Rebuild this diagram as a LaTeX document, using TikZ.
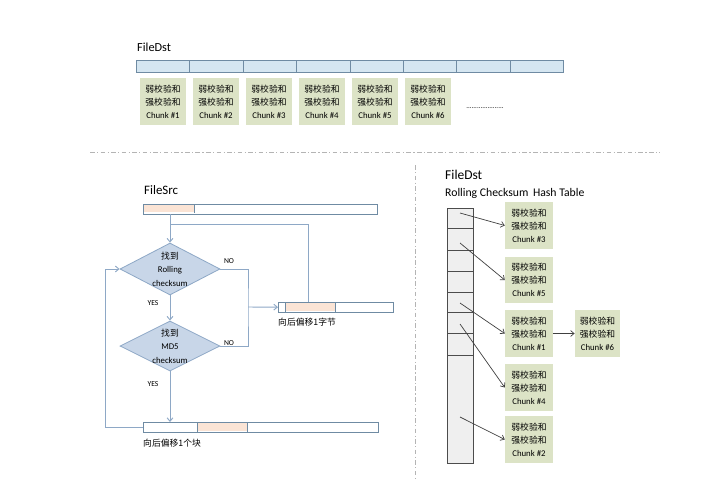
\documentclass[tikz,border=0pt]{standalone}
\usepackage{fontspec}
\setmainfont{Carlito}
\newfontfamily\cjk{Noto Sans CJK SC}
\usetikzlibrary{arrows.meta,shapes.geometric,positioning,calc}

\definecolor{barfill}{HTML}{D5E6F1}
\definecolor{barline}{HTML}{6F8BA3}
\definecolor{chunkfill}{HTML}{DCE3C6}
\definecolor{orangefill}{HTML}{FBE4D5}
\definecolor{flowline}{HTML}{8EA8C6}
\definecolor{diafill}{HTML}{C8D6E8}
\definecolor{tablefill}{HTML}{EFEFEF}
\definecolor{sepline}{HTML}{B4B4B4}

\newcommand{\chunktext}[1]{{\cjk 弱校验和}\\{\cjk 强校验和}\\Chunk \##1}

\tikzset{
  dstcell/.style={draw=barline,fill=barfill,line width=0.6pt,inner sep=0,
    anchor=north west,minimum width=1.602cm,minimum height=0.36cm},
  filebar/.style={draw=barline,fill=white,line width=0.6pt,inner sep=0,
    anchor=north west,minimum height=0.29cm},
  chunk/.style={fill=chunkfill,inner sep=0,align=center,minimum width=1.4cm,
    minimum height=1.4cm,font=\fontsize{7.5}{11}\selectfont},
  decision/.style={diamond,draw=flowline,fill=diafill,line width=0.7pt,
    inner sep=0,minimum width=3cm,minimum height=1.56cm},
  dtext/.style={align=center,inner sep=0,font=\fontsize{7.5}{11.5}\selectfont},
  flow/.style={draw=flowline,line width=0.8pt},
  ptr/.style={draw=black!75,line width=0.6pt,-{Straight Barb[length=3pt,width=5pt]}},
  lbl/.style={inner sep=0,font=\fontsize{6.5}{8}\selectfont},
  title/.style={anchor=west,inner sep=0},
  sep/.style={draw=sepline,line width=0.8pt,dash pattern=on 4pt off 2pt on 1pt off 2pt}
}

\begin{document}
\begin{tikzpicture}[x=0.03cm,y=-0.03cm,>={Straight Barb[length=3pt,width=5pt]}]
\useasboundingbox (0,0) rectangle (728,479);

% top: FileDst chunks
\node[title,font=\fontsize{10.5}{12}\selectfont] (dsttitle) at (137,47) {FileDst};
\foreach \i in {1,...,8}
  \node[dstcell] (cell\i) at ({136+(\i-1)*53.4},60) {};
\foreach \i in {1,...,6}
  \node[chunk] (top\i) at ({163+(\i-1)*53},101.5) {\chunktext{\i}};
\node[inner sep=0,font=\fontsize{6}{7}\selectfont] (more) at (485,108) {.....................};

% separators
\draw[sep] (90,152) -- (660,152);
\draw[sep] (415,165) -- (415,479);

% left: FileSrc flow
\node[title,font=\fontsize{11}{13}\selectfont] (srctitle) at (144,190) {FileSrc};
\node[filebar,minimum width=7.02cm] (src) at (143,204) {};
\fill[orangefill] (143.6,204.6) rectangle (194,212.4);
\draw[barline,line width=0.6pt] (194,204) -- (194,213);

\node[decision] (rolling) at (170,269) {};
\node[dtext] (rollingtext) at (rolling) {{\cjk 找到}\\Rolling\\checksum};
\node[decision,minimum height=1.5cm] (md5) at (170,346) {};
\node[dtext] (md5text) at (md5) {{\cjk 找到}\\MD5\\checksum};

\node[filebar,minimum width=3.45cm] (shiftbyte) at (278,302) {};
\fill[orangefill] (285,302.6) rectangle (335,311.4);
\draw[barline,line width=0.6pt] (285,302) -- (285,312) (335,302) -- (335,312);
\node[title,font=\fontsize{7.5}{9}\selectfont\cjk] (bytelbl) at (278,322) {向后偏移1字节};

\node[filebar,minimum width=7.05cm] (block) at (143,422) {};
\fill[orangefill] (197,422.6) rectangle (247,431.4);
\draw[barline,line width=0.6pt] (197,422) -- (197,432) (247,422) -- (247,432);
\node[title,font=\fontsize{7.5}{9}\selectfont\cjk] (blocklbl) at (143,443) {向后偏移1个块};

\coordinate (loopin) at (170,224);
\coordinate (back) at (308,302);
\coordinate (nojoin) at (248,307);

\draw[flow,->] (rolling |- src.south) -- (rolling.north);
\draw[flow] (back) |- (loopin);
\draw[flow,->] (rolling.south) -- (md5.north);
\draw[flow] (rolling.east) -| (nojoin) |- (md5.east);
\draw[flow,->] (nojoin) -- (shiftbyte.west);
\draw[flow,->] (md5.south) -- (md5.south |- block.north);
\draw[flow,->] (block.west) -- ++(-38,0) |- (rolling.west);

\node[lbl] (no1) at (229,261) {NO};
\node[lbl] (yes1) at (153,303) {YES};
\node[lbl] (no2) at (229,343) {NO};
\node[lbl] (yes2) at (153,384) {YES};

% right: hash table
\node[title,font=\fontsize{11.5}{13}\selectfont] (tabtitle) at (445,175) {FileDst};
\node[title,font=\fontsize{10}{12}\selectfont] (tabsub) at (445,193) {Rolling Checksum\, Hash Table};
\node[draw=black!70,fill=tablefill,line width=0.6pt,inner sep=0,anchor=north west,
  minimum width=0.78cm,minimum height=7.65cm] (table) at (447,208) {};
\foreach \y in {228,250,271,292,312,333,355}
  \draw[black!70,line width=0.6pt] (447,\y) -- (473,\y);

\node[chunk,minimum width=1.44cm] (hc3) at (529,225.5) {\chunktext{3}};
\node[chunk,minimum width=1.44cm] (hc5) at (529,280) {\chunktext{5}};
\node[chunk,minimum width=1.44cm] (hc1) at (529,333.5) {\chunktext{1}};
\node[chunk,minimum width=1.44cm] (hc4) at (529,387.5) {\chunktext{4}};
\node[chunk,minimum width=1.44cm] (hc2) at (529,439.5) {\chunktext{2}};
\node[chunk,minimum width=1.36cm] (hc6) at (597.5,333.5) {\chunktext{6}};

\coordinate (h1) at (460,213);
\coordinate (h2) at (460,243);
\coordinate (h3) at (460,303);
\coordinate (h4) at (460,324);
\coordinate (h5) at (460,417);

\draw[ptr] (h1) -- (hc3.west);
\draw[ptr] (h2) -- (hc5.west);
\draw[ptr] (h3) -- (hc1.west);
\draw[ptr] (h4) -- (hc4.west);
\draw[ptr] (h5) -- (hc2.west);
\draw[ptr] (hc1.east) -- (hc6.west);
\end{tikzpicture}
\end{document}
